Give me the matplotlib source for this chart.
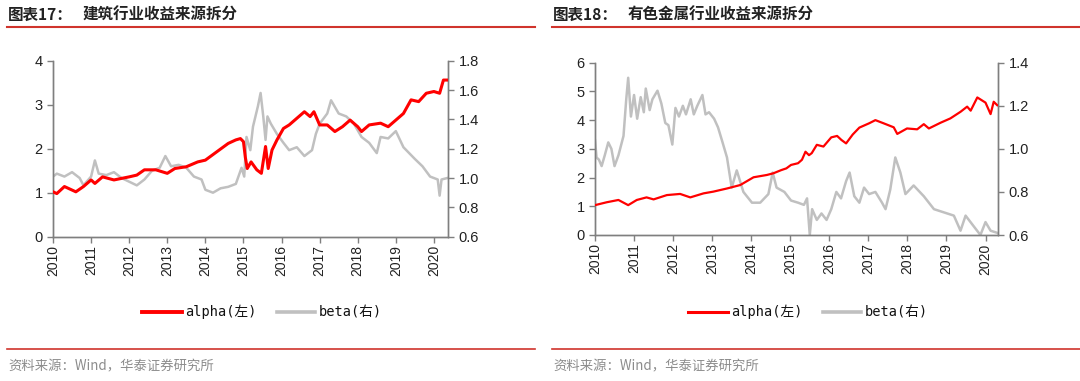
import matplotlib
matplotlib.use("Agg")
import matplotlib.pyplot as plt
from matplotlib.lines import Line2D

plt.rcParams['font.family'] = ['Noto Sans CJK SC', 'DejaVu Sans']

# ---------------- data ----------------
years = list(range(2010, 2021))

# 图表17 建筑
jz_alpha_t = [2010.0, 2010.1, 2010.3, 2010.5, 2010.6, 2010.8, 2011.0, 2011.1, 2011.3, 2011.6,
              2012.0, 2012.2, 2012.4, 2012.7, 2013.0, 2013.2, 2013.5, 2013.8, 2014.0, 2014.3,
              2014.6, 2014.8, 2014.92, 2015.0, 2015.05, 2015.1, 2015.2, 2015.35, 2015.47, 2015.58,
              2015.65, 2015.75, 2015.88, 2016.05, 2016.2, 2016.4, 2016.6, 2016.75, 2016.85, 2017.0,
              2017.2, 2017.4, 2017.6, 2017.8, 2018.0, 2018.1, 2018.3, 2018.6, 2018.8, 2019.0,
              2019.2, 2019.4, 2019.6, 2019.8, 2020.0, 2020.15, 2020.25, 2020.35]
jz_alpha_v = [1.02, 0.98, 1.14, 1.06, 1.02, 1.14, 1.29, 1.21, 1.36, 1.29,
              1.36, 1.40, 1.52, 1.52, 1.44, 1.55, 1.59, 1.70, 1.74, 1.93,
              2.12, 2.20, 2.23, 2.16, 1.80, 1.55, 1.70, 1.52, 1.44, 2.05,
              1.55, 1.97, 2.20, 2.46, 2.54, 2.69, 2.84, 2.73, 2.84, 2.54,
              2.54, 2.39, 2.50, 2.65, 2.50, 2.39, 2.54, 2.58, 2.50, 2.65,
              2.80, 3.11, 3.07, 3.26, 3.30, 3.26, 3.56, 3.56]
jz_beta_t = [2010.0, 2010.1, 2010.3, 2010.5, 2010.7, 2010.8, 2011.0, 2011.1, 2011.2, 2011.4,
             2011.6, 2011.8, 2012.0, 2012.2, 2012.4, 2012.6, 2012.8, 2012.95, 2013.1, 2013.3,
             2013.5, 2013.7, 2013.9, 2014.0, 2014.2, 2014.4, 2014.6, 2014.8, 2014.95, 2015.02,
             2015.08, 2015.18, 2015.25, 2015.38, 2015.45, 2015.52, 2015.58, 2015.63, 2015.72, 2015.88,
             2016.05, 2016.2, 2016.4, 2016.6, 2016.8, 2016.9, 2017.0, 2017.2, 2017.3, 2017.5,
             2017.7, 2017.9, 2018.1, 2018.3, 2018.5, 2018.6, 2018.8, 2019.0, 2019.2, 2019.5,
             2019.7, 2019.9, 2020.1, 2020.15, 2020.2, 2020.35]
jz_beta_v = [1.01, 1.03, 1.01, 1.04, 1.00, 0.95, 1.01, 1.12, 1.03, 1.02,
             1.04, 1.00, 0.975, 0.95, 0.99, 1.05, 1.07, 1.15, 1.08, 1.09,
             1.07, 1.01, 0.99, 0.92, 0.90, 0.93, 0.94, 0.96, 1.07, 1.01,
             1.28, 1.19, 1.35, 1.49, 1.58, 1.42, 1.26, 1.42, 1.37, 1.30,
             1.24, 1.19, 1.21, 1.15, 1.19, 1.30, 1.37, 1.44, 1.53, 1.44,
             1.42, 1.37, 1.28, 1.24, 1.17, 1.28, 1.27, 1.32, 1.21, 1.13,
             1.08, 1.01, 0.99, 0.88, 0.99, 1.00]

# 图表18 有色金属
ys_alpha_t = [2010.0, 2010.3, 2010.6, 2010.85, 2011.07, 2011.32, 2011.5, 2011.84, 2012.18, 2012.44,
              2012.78, 2013.03, 2013.38, 2013.72, 2014.06, 2014.4, 2014.57, 2014.77, 2014.9, 2015.02,
              2015.2, 2015.3, 2015.39, 2015.48, 2015.55, 2015.68, 2015.85, 2016.05, 2016.2, 2016.31,
              2016.43, 2016.6, 2016.77, 2017.02, 2017.18, 2017.39, 2017.65, 2017.74, 2017.99, 2018.25,
              2018.42, 2018.55, 2018.85, 2019.1, 2019.36, 2019.53, 2019.62, 2019.79, 2020.0, 2020.13,
              2020.21, 2020.3]
ys_alpha_v = [1.04, 1.14, 1.22, 1.04, 1.22, 1.31, 1.24, 1.39, 1.43, 1.31,
              1.45, 1.51, 1.62, 1.74, 2.01, 2.09, 2.15, 2.26, 2.32, 2.44,
              2.50, 2.62, 2.90, 2.78, 2.85, 3.14, 3.08, 3.40, 3.45, 3.31,
              3.19, 3.50, 3.74, 3.89, 4.00, 3.89, 3.75, 3.52, 3.71, 3.68,
              3.86, 3.71, 3.91, 4.06, 4.29, 4.47, 4.33, 4.79, 4.61, 4.21,
              4.64, 4.52]
ys_beta_t = [2010.0, 2010.04, 2010.1, 2010.17, 2010.25, 2010.34, 2010.42, 2010.5, 2010.6, 2010.73,
             2010.8, 2010.85, 2010.92, 2011.0, 2011.08, 2011.17, 2011.25, 2011.3, 2011.4, 2011.47,
             2011.6, 2011.7, 2011.8, 2011.88, 2011.98, 2012.06, 2012.15, 2012.25, 2012.33, 2012.45,
             2012.53, 2012.62, 2012.75, 2012.83, 2012.92, 2013.05, 2013.15, 2013.25, 2013.38, 2013.5,
             2013.63, 2013.8, 2014.02, 2014.23, 2014.44, 2014.55, 2014.65, 2014.85, 2015.02, 2015.2,
             2015.35, 2015.43, 2015.5, 2015.56, 2015.68, 2015.8, 2015.93, 2016.05, 2016.18, 2016.3,
             2016.43, 2016.52, 2016.64, 2016.77, 2016.89, 2017.02, 2017.18, 2017.35, 2017.44, 2017.56,
             2017.69, 2017.82, 2017.95, 2018.16, 2018.42, 2018.68, 2019.02, 2019.19, 2019.36, 2019.49,
             2019.7, 2019.87, 2020.0, 2020.13, 2020.3]
ys_beta_v = [1.04, 0.96, 0.95, 0.92, 0.97, 1.03, 1.00, 0.92, 0.97, 1.06,
             1.23, 1.33, 1.15, 1.25, 1.14, 1.24, 1.17, 1.28, 1.18, 1.23,
             1.27, 1.21, 1.12, 1.11, 1.02, 1.19, 1.15, 1.20, 1.16, 1.23,
             1.16, 1.20, 1.25, 1.16, 1.17, 1.14, 1.10, 1.04, 0.96, 0.82,
             0.90, 0.80, 0.75, 0.75, 0.79, 0.89, 0.82, 0.80, 0.76, 0.75,
             0.74, 0.77, 0.60, 0.72, 0.67, 0.70, 0.67, 0.72, 0.80, 0.77,
             0.85, 0.89, 0.78, 0.75, 0.82, 0.79, 0.80, 0.75, 0.72, 0.81,
             0.96, 0.89, 0.79, 0.83, 0.78, 0.72, 0.70, 0.69, 0.62, 0.69,
             0.64, 0.60, 0.66, 0.62, 0.61]

panels = [
    dict(title_num="图表17：", title="建筑行业收益来源拆分",
         at=jz_alpha_t, av=jz_alpha_v, bt=jz_beta_t, bv=jz_beta_v,
         ylim=(0, 4), yticks=[0, 1, 2, 3, 4], ylabels=["0", "1", "2", "3", "4"],
         y2lim=(0.6, 1.8), y2ticks=[0.6, 0.8, 1.0, 1.2, 1.4, 1.6, 1.8],
         xend=2020.37, ax_rect=[53/1080, 1-236.7/381, (448-53)/1080, (236.7-60.7)/381],
         x0=7, x1=535, lw=2.2, leg_x=142),
    dict(title_num="图表18：", title="有色金属行业收益来源拆分",
         at=ys_alpha_t, av=ys_alpha_v, bt=ys_beta_t, bv=ys_beta_v,
         ylim=(0, 6), yticks=[0, 1, 2, 3, 4, 5, 6], ylabels=["0", "1", "2", "3", "4", "5", "6"],
         y2lim=(0.6, 1.4), y2ticks=[0.6, 0.8, 1.0, 1.2, 1.4],
         xend=2020.32, ax_rect=[595/1080, 1-235/381, (998-595)/1080, (235-62.7)/381],
         x0=552, x1=1080, lw=1.6, leg_x=688),
]

RED = "#FF0000"
GRAY = "#C0C0C0"
AXC = "#7F7F7F"
W, H = 1080, 381
LEG_FONT = ['DejaVu Sans Mono', 'Noto Sans CJK SC']

fig = plt.figure(figsize=(10.8, 3.81), dpi=100)

def fx(px):
    return px / W

def fy(py):
    return 1 - py / H

for p in panels:
    ax = fig.add_axes(p["ax_rect"])
    ax2 = ax.twinx()
    ax.plot(p["at"], p["av"], color=RED, lw=p["lw"], zorder=3)
    ax2.plot(p["bt"], p["bv"], color=GRAY, lw=1.8, zorder=2)
    ax.set_zorder(ax2.get_zorder() + 1)
    ax.patch.set_visible(False)
    ax.set_xlim(2010, p["xend"])
    ax.set_ylim(*p["ylim"])
    ax.set_yticks(p["yticks"])
    ax.set_yticklabels(p["ylabels"])
    ax2.set_ylim(*p["y2lim"])
    ax2.set_yticks(p["y2ticks"])
    ax2.set_yticklabels([f"{v:.1f}" for v in p["y2ticks"]])
    ax.set_xticks(years)
    ax.set_xticklabels([str(y) for y in years], rotation=90, family=['Liberation Sans', 'DejaVu Sans'])
    for a in (ax, ax2):
        a.spines['top'].set_visible(False)
        for s in ('left', 'right', 'bottom'):
            a.spines[s].set_color(AXC)
            a.spines[s].set_linewidth(1.0)
        a.tick_params(axis='both', colors=AXC, labelcolor="#222222", length=4, width=1.0,
                      labelsize=10.5, direction='out')
        for lab in a.get_yticklabels():
            lab.set_family(['Liberation Sans', 'DejaVu Sans'])
    ax.tick_params(axis='x', labelsize=10, pad=2)

    # title
    fig.text(fx(p["x0"] + 1), fy(15), p["title_num"], fontsize=11.2, fontweight='bold',
             color="#222222", va='center', ha='left')
    fig.text(fx(p["x0"] + 76), fy(15), p["title"], fontsize=11.2, fontweight='bold',
             color="#222222", va='center', ha='left')
    fig.add_artist(Line2D([fx(p["x0"]), fx(p["x1"])], [fy(27), fy(27)], color="#D0342C", lw=1.5))
    fig.add_artist(Line2D([fx(p["x0"]), fx(p["x1"])], [fy(349), fy(349)], color="#D0342C", lw=1.2))
    fig.text(fx(p["x0"] + 1), fy(366), "资料来源：Wind，华泰证券研究所", fontsize=9.6,
             color="#8C8C8C", va='center', ha='left')

    # legend
    lx = p["leg_x"]
    fig.add_artist(Line2D([fx(lx), fx(lx + 40)], [fy(312), fy(312)], color=RED, lw=p["lw"] + 0.6))
    fig.text(fx(lx + 43), fy(312), "alpha(左)", fontsize=9.8, color="#111111", va='center',
             ha='left', family=LEG_FONT)
    fig.add_artist(Line2D([fx(lx + 135), fx(lx + 173)], [fy(312), fy(312)], color=GRAY, lw=2.6))
    fig.text(fx(lx + 177), fy(312), "beta(右)", fontsize=9.8, color="#111111", va='center',
             ha='left', family=LEG_FONT)

fig.savefig("out.png", dpi=100)
